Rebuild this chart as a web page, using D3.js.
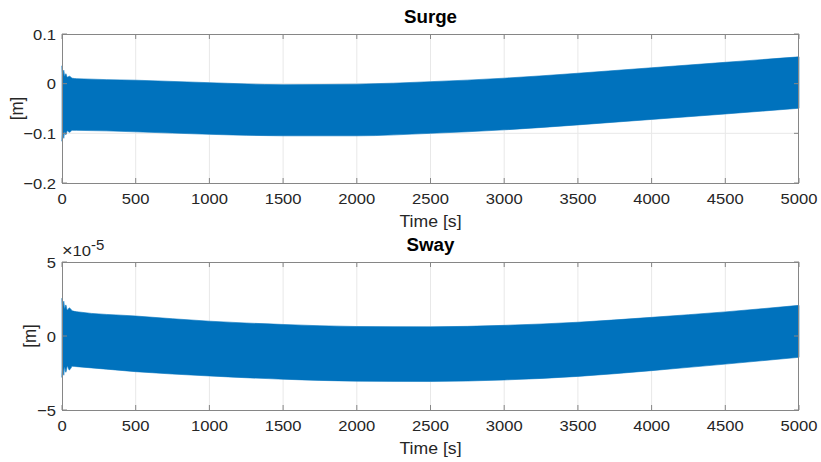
<!DOCTYPE html>
<html>
<head>
<meta charset="utf-8">
<script src="https://cdn.jsdelivr.net/npm/d3@7"></script>
<style>
  html, body { margin: 0; padding: 0; background: #fff; }
  svg { display: block; font-family: "Liberation Sans", Arial, Helvetica, sans-serif; }
</style>
</head>
<body>
<svg id="chart" width="821" height="462"></svg>
<script>
// Time axis ticks shared by both panels
const timeTicks = [0, 500, 1000, 1500, 2000, 2500, 3000, 3500, 4000, 4500, 5000];

// Surge response envelope [m]: upper and lower limits of the oscillation
const surgeTime  = [0, 6, 12, 18, 26, 36, 50, 70, 100, 500, 1000, 1500, 2000, 2500, 3000, 3500, 4000, 4500, 5000];
const surgeUpper = [0.036, 0.016, 0.027, 0.015, 0.020, 0.013, 0.015, 0.011, 0.010, 0.007, 0.002, -0.002, -0.001, 0.004, 0.011, 0.021, 0.032, 0.043, 0.054];
const surgeLower = [-0.116, -0.098, -0.110, -0.097, -0.103, -0.095, -0.098, -0.094, -0.094, -0.097, -0.102, -0.105, -0.105, -0.100, -0.093, -0.083, -0.072, -0.061, -0.0495];
const surgeTicks = [0.1, 0, -0.1, -0.2];

// Sway response envelope [1e-5 m]
const swayTime  = [0, 6, 12, 18, 26, 36, 50, 70, 100, 500, 1000, 1500, 2000, 2500, 3000, 3500, 4000, 4500, 5000];
const swayUpper = [2.55, 1.9, 2.35, 1.85, 2.1, 1.75, 1.9, 1.7, 1.64, 1.35, 1.0, 0.78, 0.64, 0.62, 0.72, 0.93, 1.26, 1.63, 2.07];
const swayLower = [-2.8, -2.15, -2.65, -2.1, -2.45, -2.05, -2.3, -2.05, -2.07, -2.41, -2.70, -2.92, -3.05, -3.07, -2.97, -2.73, -2.34, -1.90, -1.44];
const swayTicks = [5, 0, -5];

const panels = [
  { title: "Surge", top: 34, bottom: 183, domain: [-0.2, 0.1], ticks: surgeTicks,
    time: surgeTime, upper: surgeUpper, lower: surgeLower, labelX: 23, exponent: false },
  { title: "Sway", top: 262, bottom: 410, domain: [-5, 5], ticks: swayTicks,
    time: swayTime, upper: swayUpper, lower: swayLower, labelX: 36, exponent: true }
];

const left = 62, right = 799;
const textColor = "#262626", boxColor = "#868686", gridColor = "#e8e8e8", lineColor = "#0072BD";
const stretch = 1.07;   // text is drawn slightly wide
const tickSize = 15.5, labelSize = 17, titleSize = 17.5;
const svg = d3.select("#chart");
const x = d3.scaleLinear().domain([0, 5000]).range([left, right]);
const fmtTick = v => String(v).replace("-", "\u2212");

// place a text element at (px, py) with the wide glyph stretch
function label(g, px, py, str, opts = {}) {
  const rot = opts.rotate ? ` rotate(${opts.rotate})` : "";
  return g.append("text")
    .attr("transform", `translate(${px},${py}) scale(${stretch},1)${rot}`)
    .attr("text-anchor", opts.anchor || "middle")
    .attr("font-size", opts.size || tickSize)
    .attr("font-weight", opts.weight || "normal")
    .attr("fill", opts.fill || textColor)
    .text(str);
}

panels.forEach(p => {
  const y = d3.scaleLinear().domain(p.domain).range([p.bottom, p.top]);
  const g = svg.append("g");

  // grid
  g.selectAll(".gx").data(timeTicks.slice(1, -1)).join("line")
    .attr("x1", d => x(d)).attr("x2", d => x(d))
    .attr("y1", p.top).attr("y2", p.bottom)
    .attr("stroke", gridColor).attr("stroke-width", 1);
  g.selectAll(".gy").data(p.ticks.filter(t => t !== p.domain[0] && t !== p.domain[1])).join("line")
    .attr("x1", left).attr("x2", right)
    .attr("y1", d => y(d)).attr("y2", d => y(d))
    .attr("stroke", gridColor).attr("stroke-width", 1);

  // oscillation band
  const pts = p.time.map((t, i) => ({ t, hi: p.upper[i], lo: p.lower[i] }));
  const area = d3.area()
    .x(d => x(d.t)).y0(d => y(d.lo)).y1(d => y(d.hi))
    .curve(d3.curveMonotoneX);
  g.append("path").datum(pts).attr("d", area)
    .attr("fill", lineColor).attr("stroke", lineColor).attr("stroke-width", 0.6);

  // axis box
  g.append("rect").attr("x", left + 0.5).attr("y", p.top + 0.5)
    .attr("width", right - left - 1).attr("height", p.bottom - p.top)
    .attr("fill", "none").attr("stroke", boxColor).attr("stroke-width", 1);

  // inward tick marks on all four sides
  const tl = 5;
  timeTicks.forEach(t => {
    g.append("line").attr("x1", x(t)).attr("x2", x(t)).attr("y1", p.bottom).attr("y2", p.bottom - tl)
      .attr("stroke", boxColor);
    g.append("line").attr("x1", x(t)).attr("x2", x(t)).attr("y1", p.top).attr("y2", p.top + tl)
      .attr("stroke", boxColor);
  });
  p.ticks.forEach(v => {
    g.append("line").attr("x1", left).attr("x2", left + tl).attr("y1", y(v)).attr("y2", y(v))
      .attr("stroke", boxColor);
    g.append("line").attr("x1", right).attr("x2", right - tl).attr("y1", y(v)).attr("y2", y(v))
      .attr("stroke", boxColor);
  });

  // tick labels
  timeTicks.forEach(t => label(g, x(t), p.bottom + 21, String(t)));
  p.ticks.forEach(v => label(g, left - 6, y(v) + 5.5, fmtTick(v), { anchor: "end" }));

  // axis labels and title
  label(g, (left + right) / 2, p.bottom + 44, "Time [s]", { size: 16.5 });
  label(g, p.labelX, (p.top + p.bottom) / 2, "[m]", { size: labelSize, rotate: -90 });
  label(g, (left + right) / 2, p.top - 11, p.title, { size: titleSize, weight: "bold", fill: "#000" });

  if (p.exponent) {
    const ex = g.append("text")
      .attr("transform", `translate(${left},${p.top - 6}) scale(${stretch},1)`)
      .attr("font-size", tickSize).attr("fill", textColor);
    ex.append("tspan").attr("font-size", 17).text("\u00d7");
    ex.append("tspan").text("10");
    ex.append("tspan").attr("dy", -6).attr("font-size", 14).text("-5");
  }
});
</script>
</body>
</html>
